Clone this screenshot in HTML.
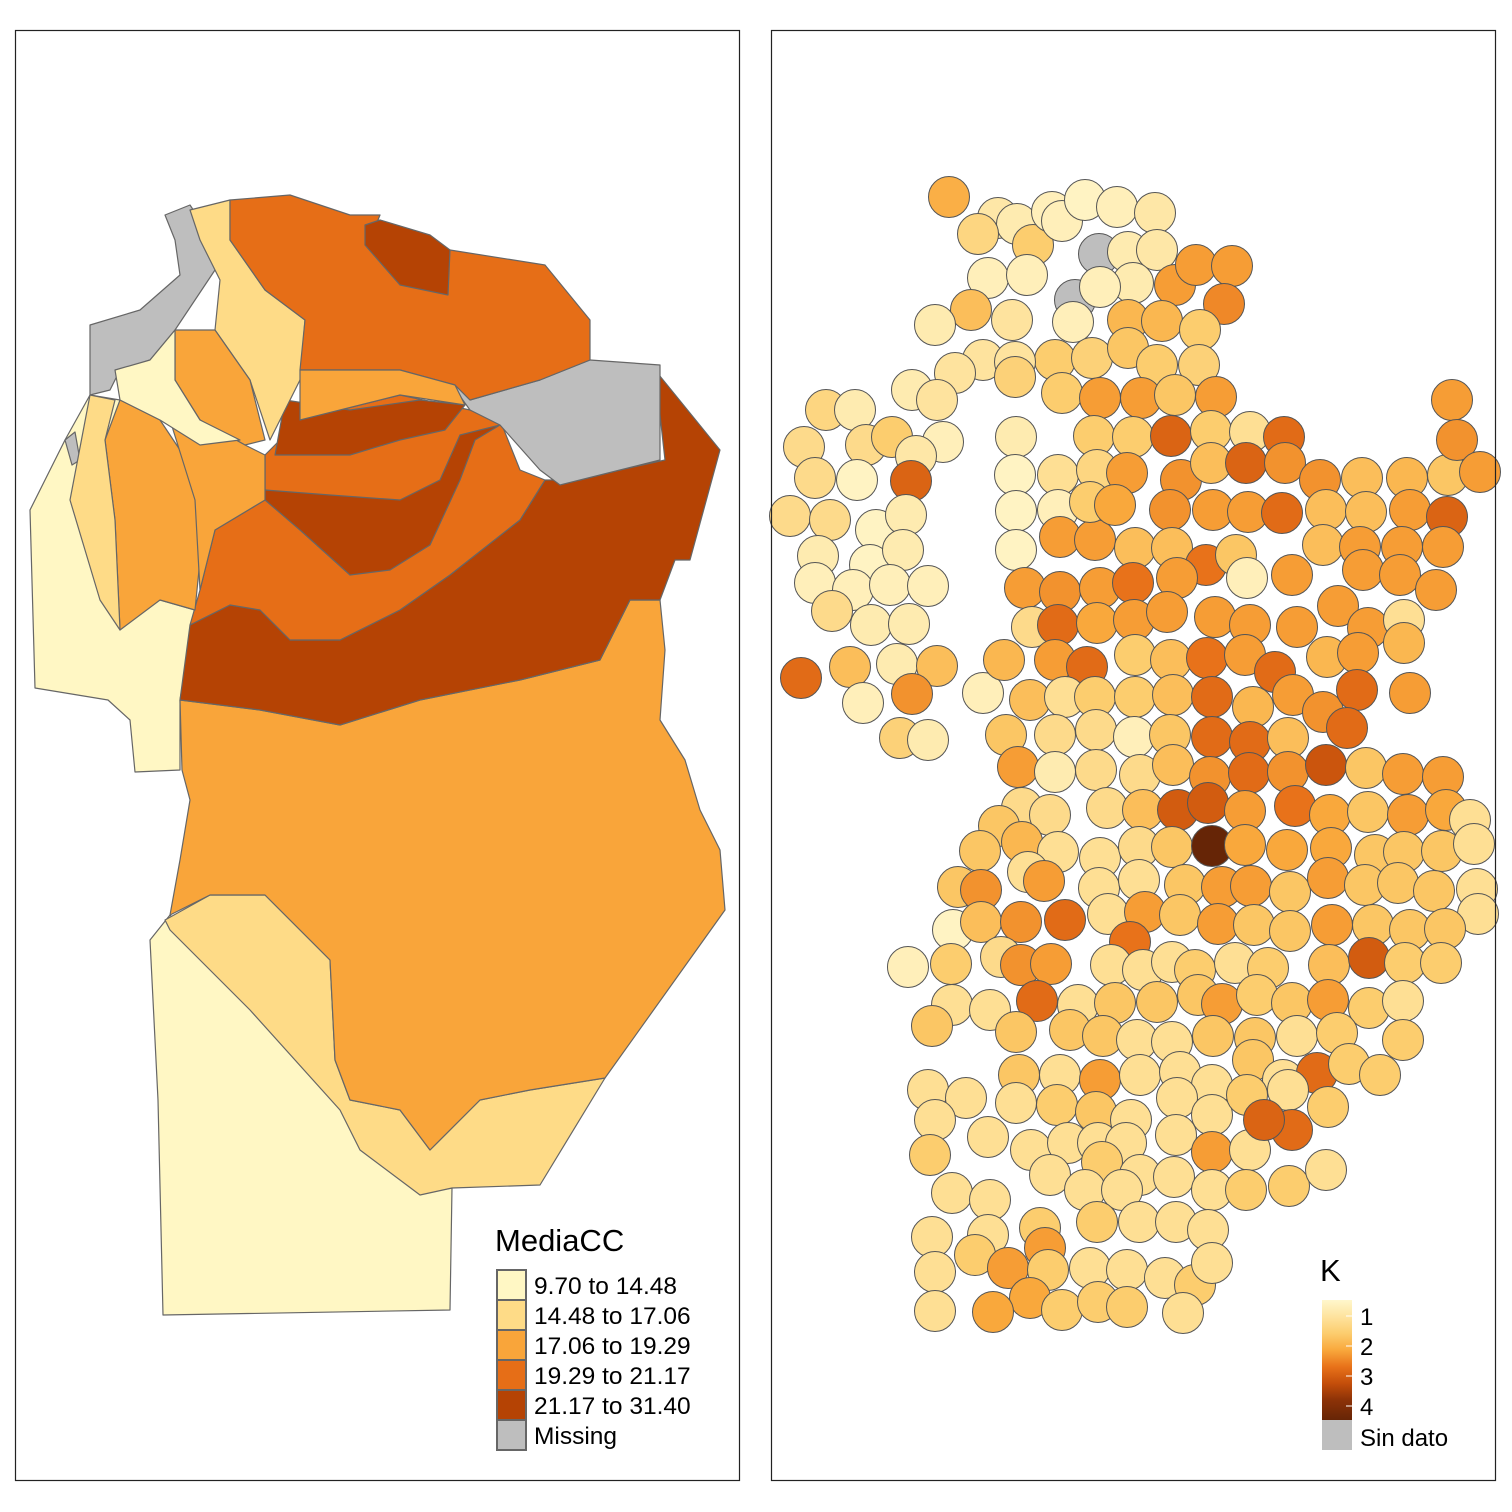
<!DOCTYPE html>
<html><head><meta charset="utf-8"><style>
html,body{margin:0;padding:0;background:#fff}
svg{display:block}
text{font-family:"Liberation Sans",sans-serif;fill:#000}
</style></head><body>
<svg id="s" width="1512" height="1512" viewBox="0 0 1512 1512">
<rect x="0" y="0" width="1512" height="1512" fill="#fff"/>
<g id="left"></g>
<g id="right"></g>
<rect x="15.5" y="30.5" width="724" height="1450" fill="none" stroke="#222" stroke-width="1.2"/>
<rect x="771.5" y="30.5" width="724" height="1450" fill="none" stroke="#222" stroke-width="1.2"/>
</svg>
<script>
const NS='http://www.w3.org/2000/svg';
// ---- Left choropleth data ----
const classLabels=['9.70 to 14.48','14.48 to 17.06','17.06 to 19.29','19.29 to 21.17','21.17 to 31.40','Missing'];
const classColors=['#FFF7C4','#FEDB87','#F9A53A','#E66E17','#B54304','#BEBEBE'];
const regions=[
 {n:'west-lightest',c:0,p:[[30,510],[65,440],[90,395],[120,400],[160,600],[195,610],[180,700],[180,770],[135,772],[130,720],[108,700],[35,688]]},
 {n:'west-missing-small',c:5,p:[[65,440],[75,432],[80,460],[72,465]]},
 {n:'south-lightest',c:0,p:[[150,940],[170,915],[350,1100],[380,1150],[440,1190],[452,1188],[450,1310],[163,1315],[158,1100]]},
 {n:'south-light',c:1,p:[[165,920],[210,895],[265,895],[330,960],[335,1060],[350,1100],[400,1110],[430,1150],[480,1100],[530,1090],[605,1078],[540,1185],[452,1188],[420,1195],[360,1150],[340,1110],[250,1010],[170,930]]},
 {n:'south-central',c:2,p:[[180,700],[260,710],[340,725],[420,700],[520,680],[600,660],[630,600],[660,600],[665,650],[660,720],[685,760],[700,810],[720,850],[725,910],[605,1078],[530,1090],[480,1100],[430,1150],[400,1110],[350,1100],[335,1060],[330,960],[265,895],[210,895],[170,915],[180,860],[190,800],[182,770]]},
 {n:'dark-band',c:4,p:[[190,625],[230,605],[260,610],[290,640],[340,640],[400,610],[450,575],[520,520],[545,480],[580,480],[620,470],[665,460],[655,370],[720,450],[690,560],[675,560],[660,600],[630,600],[600,660],[520,680],[420,700],[340,725],[260,710],[180,700]]},
 {n:'middle-orange',c:3,p:[[200,590],[215,530],[265,500],[265,455],[300,420],[400,395],[470,410],[500,420],[520,470],[545,480],[520,520],[450,575],[400,610],[340,640],[290,640],[260,610],[230,605],[190,625]]},
 {n:'inner-dark',c:4,p:[[265,500],[300,530],[350,575],[390,570],[430,545],[460,480],[475,440],[500,425],[460,435],[440,480],[400,500],[330,495],[265,490]]},
 {n:'upper-dark',c:4,p:[[275,455],[285,400],[350,410],[420,400],[465,405],[445,430],[400,440],[350,455],[300,455]]},
 {n:'east-missing',c:5,p:[[455,385],[470,400],[540,380],[590,360],[660,365],[660,460],[620,470],[580,480],[560,485],[540,470],[500,425],[470,410],[452,385]]},
 {n:'northwest-missing',c:5,p:[[165,215],[190,205],[220,250],[215,270],[175,330],[150,360],[120,370],[110,390],[90,395],[90,325],[140,310],[180,275],[175,240]]},
 {n:'north-light-band',c:1,p:[[190,210],[230,200],[230,240],[265,290],[305,320],[300,380],[270,440],[250,380],[215,330],[220,280],[200,240]]},
 {n:'north-orange',c:3,p:[[230,200],[290,195],[320,205],[350,215],[380,215],[370,240],[420,255],[450,250],[545,265],[590,320],[590,360],[540,380],[470,400],[455,385],[400,370],[300,370],[305,320],[265,290],[230,240]]},
 {n:'north-dark',c:4,p:[[365,225],[380,220],[430,235],[450,250],[448,295],[400,285],[365,245]]},
 {n:'nw-mid',c:2,p:[[175,330],[215,330],[250,380],[265,440],[245,445],[200,420],[175,380]]},
 {n:'north-mid-strip',c:2,p:[[300,370],[400,370],[455,385],[465,405],[400,395],[300,420],[300,380]]},
 {n:'west-column',c:2,p:[[105,440],[120,400],[160,420],[200,480],[200,560],[195,610],[160,600],[120,630],[115,520]]},
 {n:'west-mid',c:2,p:[[200,420],[245,445],[265,455],[265,500],[215,530],[200,590],[195,500],[170,420]]},
 {n:'nw-lightest',c:0,p:[[115,370],[150,360],[175,330],[175,380],[200,420],[240,440],[200,445],[160,420],[120,400]]},
 {n:'west-light-strip',c:1,p:[[90,395],[115,400],[105,440],[115,520],[120,630],[100,600],[70,500]]}
];
// ---- Right point map data: [easting, northing, K] (null K = Sin dato) ----
const pts=[
[949,197,2.4],[998,218,1.4],[1017,224,1.3],[978,234,1.8],[1033,245,2],[1052,212,1.2],[1062,221,1.2],[1085,200,1.1],[1117,207,1.2],[1155,213,1.4],
[1099,254,null],[1128,252,1.3],[1157,250,1.4],[988,278,1.2],[1027,275,1.2],[1133,283,1.3],[1075,300,null],[1100,287,1.2],[1175,285,2.6],[1196,265,2.6],
[1232,266,2.6],[1224,304,2.8],[971,310,2.2],[1012,320,1.5],[935,325,1.3],[1128,320,2.3],[1162,321,2.3],[1200,330,2],[1073,322,1.2],[1055,360,2],
[1092,358,1.9],[1128,348,2.1],[1157,365,2],[1199,365,1.9],[983,360,1.5],[1015,362,1.5],[955,373,1.5],[1015,377,1.9],[912,390,1.3],[937,400,1.5],
[1062,393,2],[1100,398,2.6],[1141,398,2.6],[1175,395,2.1],[1216,397,2.6],[826,410,1.8],[855,410,1.3],[1452,400,2.6],
[804,447,1.7],[866,445,1.7],[892,437,2],[943,442,1.2],[916,456,1.4],[911,481,3.2],[815,478,1.7],[857,480,1.1],[790,516,1.7],[830,520,1.7],
[876,530,1.1],[906,515,1.3],[818,556,1.3],[870,565,1.1],[903,550,1.3],[815,583,1.2],[853,590,1.2],[890,585,1.2],[928,586,1.2],[832,611,1.7],
[871,625,1.3],[909,624,1.3],[801,678,3.1],[850,667,2.2],[897,664,1.3],[937,666,2.2],[912,694,2.7],[863,703,1.2],[983,693,1.2],[900,738,1.9],[928,740,1.3],
[1016,437,1.3],[1015,475,1.1],[1016,511,1.1],[1016,550,1.1],[1058,475,1.6],[1058,510,1.2],[1094,436,2],[1133,437,2],[1171,436,3.2],[1211,431,2],
[1250,432,1.6],[1284,437,3.1],[1097,470,1.8],[1127,473,2.6],[1181,480,2.7],[1211,463,2.2],[1246,463,3.2],[1285,463,2.7],[1320,480,2.7],[1362,478,2.2],
[1407,478,2.3],[1448,475,2.1],[1457,440,2.7],[1480,472,2.6],[1060,537,2.6],[1095,540,2.6],[1090,502,2],[1115,505,2.5],[1170,510,2.7],[1213,510,2.6],
[1248,512,2.6],[1282,513,3.1],[1326,510,2.2],[1366,512,2.2],[1410,510,2.6],[1447,517,3.2],[1135,548,2.2],[1172,548,2.2],[1206,565,3],[1236,555,2.1],
[1247,578,1.2],[1292,575,2.6],[1323,545,2.2],[1360,547,2.6],[1402,547,2.6],[1443,547,2.6],[1025,588,2.6],[1060,592,2.7],[1100,588,2.6],[1133,583,3],
[1177,578,2.6],[1363,570,2.6],[1400,575,2.6],[1436,590,2.6],[1032,627,1.7],[1058,625,3.1],[1097,623,2.5],[1134,620,2.6],[1167,612,2.6],[1215,617,2.6],
[1250,625,2.6],[1297,627,2.6],[1338,606,2.6],[1368,628,2.6],[1404,620,1.6],[1404,643,2.3],[1004,660,2.3],[1055,660,2.6],[1087,667,3.1],[1135,655,2],
[1171,660,2.2],[1207,658,3],[1245,655,2.6],[1275,672,3.1],[1327,657,2.3],[1358,653,2.6],[1030,700,2.2],[1065,697,1.6],[1095,697,2],[1135,697,2],
[1173,695,2.2],[1212,697,3.1],[1253,707,2.3],[1293,695,2.6],[1323,712,2.7],[1357,690,3.1],[1410,693,2.6],[1347,728,3.1],[1006,735,2.1],[1055,735,1.7],
[1096,730,1.7],[1134,737,1.2],[1170,735,2.1],[1212,737,3.1],[1250,742,3.1],[1288,738,2.2],[1018,767,2.6],[1055,772,1.3],[1096,770,1.7],[1140,775,1.7],
[1173,765,2.2],[1210,777,2.7],[1249,773,3.1],[1288,772,2.7],[1326,765,3.4],[1366,768,2.1],[1403,774,2.6],[1443,777,2.6],[1022,808,1.7],[1050,815,1.7],
[1107,808,1.7],[1143,810,2.2],[1178,810,3.3],[1208,803,3.3],[1245,811,2.6],[1295,806,3],[1330,815,2.5],[1368,812,2.1],[1408,815,2.6],[1446,810,2.5],
[1470,820,1.6],[999,826,2.1],[980,851,2.1],[1022,842,2.3],[1058,852,1.6],[1100,858,1.6],[1139,847,1.7],[1172,847,2.1],[1212,846,4.6],[1245,845,2.5],
[1287,850,2.5],[1331,848,2.5],[1375,855,2.1],[1404,852,2.1],[1442,851,2.1],[1474,844,1.6],[958,887,2.1],[981,890,2.7],[1028,872,1.6],[1044,881,2.6],
[1099,888,1.6],[1139,880,1.6],[1185,885,2.1],[1222,887,2.6],[1251,886,2.6],[1290,892,2.1],[1328,878,2.6],[1365,885,2.1],[1398,883,2.1],[1434,891,2.1],
[1477,889,1.6],[1478,914,1.6],[953,930,1.1],[981,922,2.2],[1021,922,2.7],[1065,920,3.1],[1108,914,1.6],[1145,912,2.6],[1180,915,2.1],[1218,924,2.6],
[1254,925,2.1],[1290,931,2.1],[1332,925,2.6],[1373,925,2.1],[1410,930,2.1],[1445,929,2.1],[908,967,1.2],[951,964,2],[1001,957,1.7],[1021,965,2.7],
[1051,964,2.6],[1130,942,3],[1111,965,1.6],[1143,970,1.6],[1172,962,1.6],[1195,970,2],[1235,963,1.6],[1268,968,2],[1329,965,2.2],[1369,958,3.3],
[1405,963,2],[1441,963,2],[952,1005,1.6],[990,1010,1.6],[1037,1001,3.1],[1078,1005,1.6],[1115,1003,2.1],[1157,1002,2.1],[1198,995,2.1],[1222,1004,2.6],
[1257,995,2],[1292,1003,2.1],[1328,1000,2.6],[1369,1008,2],[1403,1001,1.6],[932,1026,2.1],[1016,1032,2.1],[1070,1030,2.1],[1103,1036,2.1],[1137,1040,1.6],
[1172,1042,1.6],[1213,1036,2.1],[1255,1038,2.1],[1297,1036,1.6],[1337,1033,2],[1403,1040,2],[1019,1075,2.1],[1060,1075,1.6],[1100,1080,2.6],[1140,1075,1.6],
[1180,1072,1.6],[1212,1085,1.6],[1253,1060,2.1],[1283,1080,1.6],[1317,1073,3.1],[1349,1064,2],[1380,1075,2],[928,1090,1.6],[966,1098,1.6],[1016,1103,1.6],
[1057,1105,2],[1096,1112,2.1],[1131,1120,1.6],[1177,1098,1.6],[1212,1115,1.6],[1247,1095,2],[1288,1090,1.6],[1328,1107,2],[935,1120,1.6],[988,1137,1.6],
[1031,1150,1.6],[1068,1143,1.6],[1098,1143,1.6],[1126,1143,1.6],[1176,1135,1.6],[1212,1152,2.6],[1250,1150,1.6],[1292,1130,3.1],[1264,1120,3.2],[930,1155,2],
[1050,1175,1.6],[1102,1162,2],[1140,1175,1.6],[1174,1177,1.6],[1212,1190,1.6],[1246,1190,2],[1289,1186,2],[1326,1170,1.6],[952,1193,1.6],[990,1200,1.6],
[1085,1190,1.6],[1122,1190,1.6],[1097,1222,2],[1139,1222,1.6],[1176,1222,1.6],[1208,1230,1.6],[932,1237,1.6],[988,1235,1.6],[1040,1228,2],[1045,1248,2.6],
[975,1255,2],[1008,1268,2.6],[1048,1270,2],[1090,1268,1.6],[1127,1270,1.6],[1165,1278,1.6],[1195,1285,2],[1212,1263,1.6],[935,1272,1.6],[1030,1298,2.5],
[993,1312,2.5],[1062,1310,2],[1098,1302,2],[1127,1307,2],[1183,1313,1.6],[935,1311,1.6]
];
const px=pts.map(p=>p[0]);
const py=pts.map(p=>p[1]);
const kVal=pts.map(p=>p[2]);
const kTicks=['1','2','3','4'];
// ---- projections ----
function sx(u){return 771+(u-771);}
function sy(v){return 30+(v-30);}
function kColor(k){
 const st=[[1,[255,247,204]],[1.5,[254,227,158]],[2,[252,205,110]],[2.5,[249,168,60]],[3,[232,114,26]],[3.5,[196,78,10]],[4,[140,50,7]],[4.6,[102,37,6]]];
 if(k<=st[0][0])return 'rgb('+st[0][1]+')';
 for(let i=1;i<st.length;i++){if(k<=st[i][0]){const a=st[i-1],b=st[i],t=(k-a[0])/(b[0]-a[0]);return 'rgb('+a[1].map((v,j)=>Math.round(v+(b[1][j]-v)*t)).join(',')+')';}}
 return 'rgb('+st[st.length-1][1]+')';
}
function mk(tag,attrs,parent){const e=document.createElementNS(NS,tag);for(const k in attrs)e.setAttribute(k,attrs[k]);parent.appendChild(e);return e;}
const L=document.getElementById('left'),R=document.getElementById('right');
regions.forEach(r=>{
 const e=mk('polygon',{points:r.p.map(q=>q[0]+','+q[1]).join(' '),fill:classColors[r.c],stroke:'#666','stroke-width':1.2,'stroke-linejoin':'round'},L);
 
 
});
// left legend
const t1=mk('text',{x:495,y:1251,'font-size':31},L);t1.textContent='MediaCC';


classLabels.forEach((lab,i)=>{
 const y=1270+i*30;
 const b=mk('rect',{x:497,y:y,width:29,height:30,fill:classColors[i],stroke:'#666','stroke-width':2},L);
 
 
 const t=mk('text',{x:534,y:y+24,'font-size':24.5},L);t.textContent=lab;
 
 
});
// right circles
for(let i=0;i<px.length;i++){
 const c=mk('circle',{cx:sx(px[i]),cy:sy(py[i]),r:20.5,fill:kVal[i]==null?'#BEBEBE':kColor(kVal[i]),stroke:'#555','stroke-width':1},R);
 
 
}
// right legend
const defs=mk('defs',{},R);
const g=mk('linearGradient',{id:'kg',x1:0,y1:0,x2:0,y2:1},defs);
[1,1.5,2,2.5,3,3.5,4,4.6].forEach(k=>{mk('stop',{offset:(k-1)/3.6,'stop-color':kColor(k)},g);});
const t2=mk('text',{x:1320,y:1281,'font-size':31},R);t2.textContent='K';


const gb=mk('rect',{x:1322,y:1300,width:30,height:120,fill:'url(#kg)'},R);


kTicks.forEach((lab,i)=>{
 const y=1316+i*30;
 const tk=mk('line',{x1:1346,x2:1352,y1:y,y2:y,stroke:'#fff','stroke-width':1},R);
 
 
 const t=mk('text',{x:1360,y:y+9,'font-size':24},R);t.textContent=lab;
 
 
});
const sd=mk('rect',{x:1322,y:1420,width:30,height:30,fill:'#BEBEBE'},R);


const t3=mk('text',{x:1360,y:1446,'font-size':24},R);t3.textContent='Sin dato';


</script>
</body></html>
